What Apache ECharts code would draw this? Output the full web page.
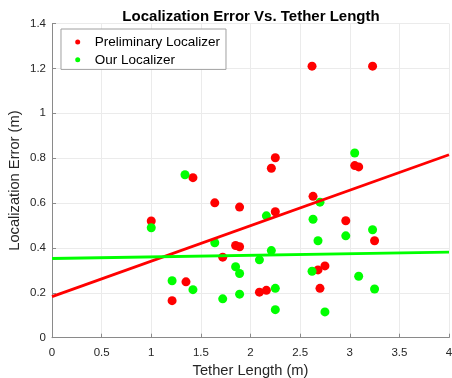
<!DOCTYPE html>
<html>
<head>
<meta charset="utf-8">
<script src="https://cdn.jsdelivr.net/npm/echarts@6/dist/echarts.min.js"></script>
<style>html,body{margin:0;padding:0;background:#fff;}#c{width:452px;height:378px;}</style>
</head>
<body>
<div id="c"></div>
<script>
// Data
const prelimX = [1.0, 1.42, 1.64, 1.89, 1.85, 1.89, 1.72, 1.35, 1.21, 2.62, 3.23, 3.05, 3.09, 2.25, 2.21, 2.63, 2.25, 2.96, 3.25, 2.75, 2.68, 2.09, 2.16, 2.70];
const prelimY = [0.52, 0.713, 0.601, 0.582, 0.411, 0.405, 0.359, 0.249, 0.165, 1.21, 1.21, 0.767, 0.761, 0.802, 0.755, 0.630, 0.561, 0.521, 0.432, 0.320, 0.302, 0.203, 0.211, 0.220];
const oursX = [1.0, 1.34, 1.64, 1.85, 1.89, 1.21, 1.42, 1.72, 1.89, 3.05, 2.70, 2.16, 2.63, 3.23, 2.96, 2.68, 2.21, 2.09, 2.62, 3.09, 2.25, 3.25, 2.25, 2.75];
const oursY = [0.49, 0.726, 0.423, 0.316, 0.286, 0.254, 0.214, 0.173, 0.194, 0.823, 0.604, 0.543, 0.528, 0.481, 0.454, 0.432, 0.388, 0.347, 0.296, 0.274, 0.220, 0.217, 0.125, 0.115];
const fitX = [0, 4];
const prelimFitY = [0.183, 0.815];
const oursFitY = [0.353, 0.381];
const xTicks = ['0', '0.5', '1', '1.5', '2', '2.5', '3', '3.5', '4'];
const yTicks = ['0', '0.2', '0.4', '0.6', '0.8', '1', '1.2', '1.4'];
const seriesNames = ['Preliminary Localizer', 'Our Localizer'];

const zip = (xs, ys) => xs.map((x, i) => [x, ys[i]]);
const FONT = '"Liberation Sans", Arial, Helvetica, sans-serif';
const RED = '#ff0000', GREEN = '#00ff00';

const chart = echarts.init(document.getElementById('c'), null, {renderer: 'canvas'});
chart.setOption({
  animation: false,
  backgroundColor: '#fff',
  title: {
    text: 'Localization Error Vs. Tether Length',
    left: 246, textAlign: 'center', top: 4,
    textStyle: {fontFamily: FONT, fontSize: 15, fontWeight: 'bold', color: '#000'}
  },
  legend: {
    data: seriesNames,
    orient: 'vertical',
    left: 61, top: 29,
    padding: [6, 6, 2.6, 14.2],
    itemGap: 3.8,
    itemWidth: 26, itemHeight: 5,
    icon: 'circle',
    borderColor: '#a0a0a0', borderWidth: 1,
    backgroundColor: '#fff',
    textStyle: {fontFamily: FONT, fontSize: 13.5, color: '#000', padding: [0, 0, 0, -1]}
  },
  grid: {left: 52, right: 3, top: 23.5, bottom: 40.3, containLabel: false, outerBoundsMode: 'none'},
  xAxis: {
    type: 'value', min: 0, max: 4, interval: 0.5,
    name: 'Tether Length (m)', nameLocation: 'middle', nameGap: 26, nameMoveOverlap: false,
    nameTextStyle: {fontFamily: FONT, fontSize: 14.7, color: '#262626'},
    axisLine: {show: true, onZero: false, lineStyle: {color: '#8a8a8a', width: 1}},
    axisTick: {show: true, inside: true, length: 4, lineStyle: {color: '#8a8a8a'}},
    axisLabel: {fontFamily: FONT, fontSize: 11.5, color: '#262626', margin: 9,
      formatter: v => xTicks[Math.round(v / 0.5)]},
    splitLine: {show: true, lineStyle: {color: '#ebebeb', width: 1}}
  },
  yAxis: {
    type: 'value', min: 0, max: 1.4, interval: 0.2,
    name: 'Localization Error (m)', nameLocation: 'middle', nameGap: 30, nameMoveOverlap: false,
    nameTextStyle: {fontFamily: FONT, fontSize: 14.7, color: '#262626'},
    axisLine: {show: true, onZero: false, lineStyle: {color: '#8a8a8a', width: 1}},
    axisTick: {show: true, inside: true, length: 4, lineStyle: {color: '#8a8a8a'}},
    axisLabel: {fontFamily: FONT, fontSize: 11.5, color: '#262626', margin: 6,
      formatter: v => yTicks[Math.round(v / 0.2)]},
    splitLine: {show: true, lineStyle: {color: '#ebebeb', width: 1}}
  },
  series: [
    {name: seriesNames[0], type: 'scatter', symbol: 'circle', symbolSize: 9,
     itemStyle: {color: RED, opacity: 1}, data: zip(prelimX, prelimY), z: 2},
    {name: seriesNames[1], type: 'scatter', symbol: 'circle', symbolSize: 9,
     itemStyle: {color: GREEN, opacity: 1}, data: zip(oursX, oursY), z: 3},
    {name: 'prelimFit', type: 'line', showSymbol: false, symbol: 'none',
     lineStyle: {color: RED, width: 2.8}, data: zip(fitX, prelimFitY), z: 4},
    {name: 'oursFit', type: 'line', showSymbol: false, symbol: 'none',
     lineStyle: {color: GREEN, width: 2.8}, data: zip(fitX, oursFitY), z: 4}
  ]
});
</script>
</body>
</html>
